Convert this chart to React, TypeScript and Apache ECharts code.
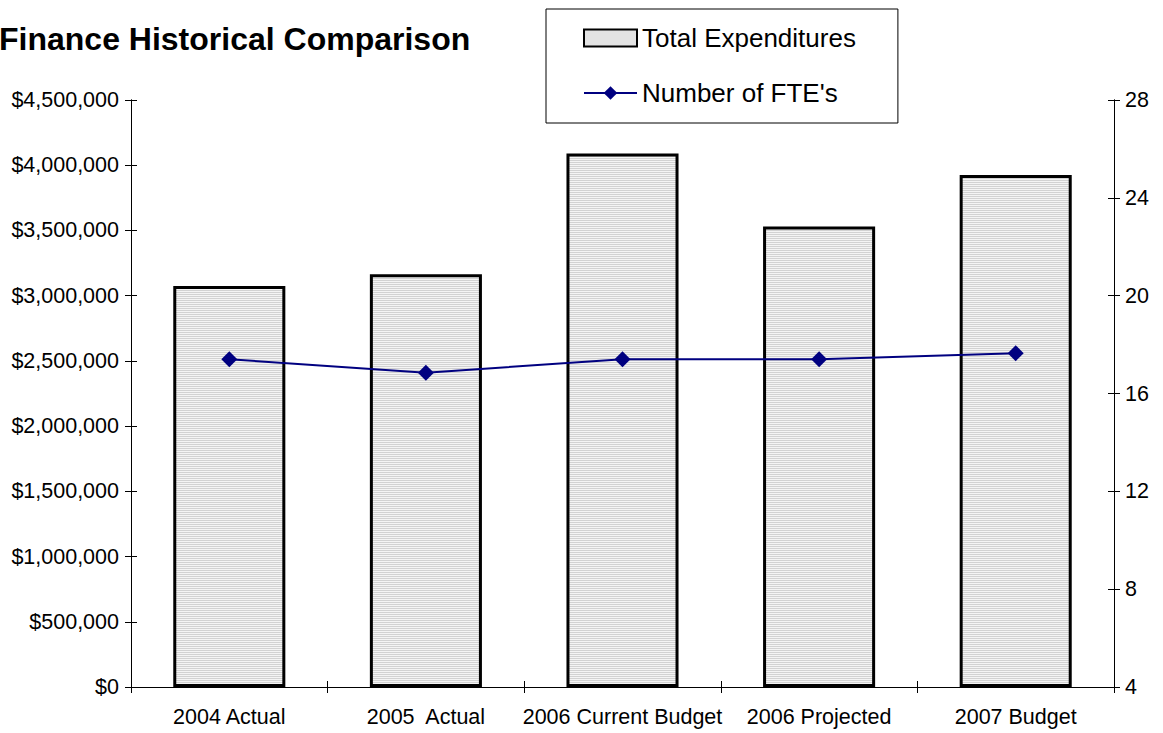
import React, { useEffect, useRef } from "react";
import * as echarts from "echarts";

const categories = ["2004 Actual", "2005  Actual", "2006 Current Budget", "2006 Projected", "2007 Budget"];
const expenditures = [3075000, 3165000, 4090000, 3530000, 3925000];
const ftes = [17.4, 16.85, 17.4, 17.4, 17.65];

const titleText = "Finance Historical Comparison";
const barName = "Total Expenditures";
const lineName = "Number of FTE's";

const FONT = "'Liberation Sans', Arial, Helvetica, sans-serif";

function makePattern(): HTMLCanvasElement {
  const c = document.createElement("canvas");
  c.width = 4;
  c.height = 2;
  const ctx = c.getContext("2d")!;
  ctx.fillStyle = "#f4f4f4";
  ctx.fillRect(0, 0, 4, 2);
  ctx.fillStyle = "#d2d2d2";
  ctx.fillRect(0, 0, 4, 1);
  return c;
}

const fmtMoney = (v: number) => "$" + Math.round(v).toLocaleString("en-US");

export default function App() {
  const ref = useRef<HTMLDivElement>(null);
  useEffect(() => {
    if (!ref.current) return;
    const chart = echarts.init(ref.current, undefined, { renderer: "svg" });
    const pattern = makePattern();
    const barFill: any = { image: pattern, repeat: "repeat" };
    const labelStyle = { color: "#000", fontSize: 21.5, fontFamily: FONT };
    const axisLine = { show: true, lineStyle: { color: "#000", width: 1 } };
    chart.setOption({
      animation: false,
      backgroundColor: "#fff",
      title: {
        text: titleText,
        left: -1,
        top: 23,
        padding: 0,
        textStyle: { color: "#000", fontSize: 32, fontWeight: "bold", fontFamily: FONT },
      },
      legend: {
        left: 546,
        top: 9,
        orient: "vertical",
        backgroundColor: "#fff",
        borderColor: "#000",
        borderWidth: 1,
        padding: [16, 42, 17, 37],
        itemGap: 29,
        itemWidth: 53,
        itemHeight: 17,
        textStyle: { color: "#000", fontSize: 26, fontFamily: FONT, lineHeight: 25 },
        data: [{ name: barName, icon: "rect" }, { name: lineName }],
      },
      grid: { left: 131, right: 49, top: 100, bottom: 46, containLabel: false },
      xAxis: [
        {
          type: "category",
          data: categories,
          position: "bottom",
          axisLine,
          axisTick: { show: true, length: 6, lineStyle: { color: "#000" } },
          axisLabel: { color: "#000", fontSize: 21.5, fontFamily: FONT, margin: 19, interval: 0 },
          splitLine: { show: false },
        },
        {
          type: "category",
          data: categories,
          position: "bottom",
          axisLine,
          axisTick: { show: true, inside: true, length: 6, lineStyle: { color: "#000" } },
          axisLabel: { show: false },
          splitLine: { show: false },
        },
      ],
      yAxis: [
        {
          type: "value",
          position: "left",
          min: 0,
          max: 4500000,
          interval: 500000,
          axisLine,
          axisTick: { show: true, length: 6, lineStyle: { color: "#000" } },
          axisLabel: { ...labelStyle, margin: 12, formatter: fmtMoney },
          splitLine: { show: false },
        },
        {
          type: "value",
          position: "right",
          min: 4,
          max: 28,
          interval: 4,
          axisLine,
          axisTick: { show: true, length: 6, lineStyle: { color: "#000" } },
          axisLabel: { ...labelStyle, margin: 11 },
          splitLine: { show: false },
        },
        {
          type: "value",
          position: "left",
          min: 0,
          max: 4500000,
          interval: 500000,
          axisLine,
          axisTick: { show: true, inside: true, length: 6, lineStyle: { color: "#000" } },
          axisLabel: { show: false },
          splitLine: { show: false },
        },
        {
          type: "value",
          position: "right",
          min: 4,
          max: 28,
          interval: 4,
          axisLine,
          axisTick: { show: true, inside: true, length: 6, lineStyle: { color: "#000" } },
          axisLabel: { show: false },
          splitLine: { show: false },
        },
      ],
      series: [
        {
          name: barName,
          type: "bar",
          xAxisIndex: 0,
          yAxisIndex: 0,
          data: expenditures,
          barCategoryGap: "43%",
          itemStyle: { color: barFill, borderColor: "#000", borderWidth: 3 },
          emphasis: { disabled: true },
        },
        {
          name: lineName,
          type: "line",
          xAxisIndex: 0,
          yAxisIndex: 1,
          data: ftes,
          symbol: "diamond",
          symbolSize: 16,
          lineStyle: { color: "#000080", width: 2 },
          itemStyle: { color: "#000080" },
          emphasis: { disabled: true },
          z: 5,
        },
      ],
    });
    return () => chart.dispose();
  }, []);
  return (
    <div
      ref={ref}
      style={{ position: "fixed", left: 0, top: 0, width: 1163, height: 733, background: "#fff" }}
    />
  );
}
